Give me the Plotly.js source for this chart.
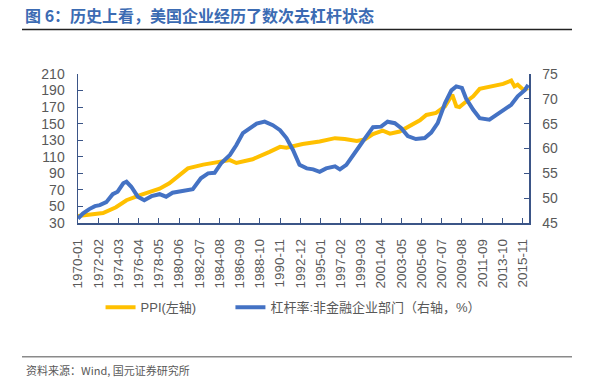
<!DOCTYPE html>
<html>
<head>
<meta charset="utf-8">
<script src="https://cdn.plot.ly/plotly-3.0.1.min.js"></script>
<style>
  html, body { margin: 0; padding: 0; background: #fff; }
  #chart { width: 594px; height: 379px; }
</style>
</head>
<body>
<div id="chart"></div>
<script>
// PPI (left axis)
const ppiDates = ['1970-01','1972-08','1973-12','1975-01','1976-05','1978-06','1979-06','1980-07','1981-05','1982-12',
  '1984-08','1985-09','1986-05','1988-01','1989-10','1990-11','1991-07','1993-03','1994-12','1996-07',
  '1997-07','1998-10','1999-08','2000-06','2001-06','2002-03','2003-03','2004-03','2005-04','2005-12',
  '2006-12','2007-11','2008-08','2009-01','2009-05','2009-11','2010-10','2011-06','2012-10','2013-11',
  '2014-09','2015-01','2015-05','2015-12','2016-06'];
const ppiValues = [38.5,42,49,57.5,63.5,71.5,78,88,96,100.5,
  104,106,102.5,107,116,122,121,125.5,128.5,132.5,
  131.5,129,131,137.5,141.5,138,140.5,146.5,154,160.5,
  163,171,185,171,170,175,183,192,196,198,
  202,195,197,191,193];

// Leverage ratio, non-financial corporate sector (right axis, %)
const levDates = ['1970-01','1970-07','1971-03','1971-10','1972-04','1972-12','1973-08','1974-02','1974-09','1975-01',
  '1975-07','1976-03','1976-11','1977-08','1978-06','1979-02','1979-10','1980-11','1981-11','1982-09',
  '1983-06','1984-02','1984-10','1985-09','1986-05','1987-01','1987-09','1988-06','1989-04','1990-02',
  '1990-11','1991-07','1992-03','1992-11','1993-08','1994-04','1994-12','1995-08','1996-07','1997-01',
  '1997-09','1998-05','1999-01','1999-10','2000-06','2001-04','2001-12','2002-09','2003-05','2004-01',
  '2004-11','2005-10','2006-06','2007-02','2007-11','2008-07','2009-01','2009-08','2010-01','2010-10',
  '2011-06','2012-06','2013-03','2013-11','2014-09','2015-05','2016-02','2016-06'];
const levValues = [45.9,46.9,47.8,48.4,48.6,49.2,50.8,51.3,53.0,53.3,
  52.3,50.3,49.6,50.4,50.8,50.3,51.1,51.4,51.8,54.0,
  55.0,55.1,57.0,58.7,60.7,63.1,64.1,65.0,65.4,64.7,
  63.7,62.1,59.7,56.7,56.0,55.8,55.3,56.0,56.4,55.8,
  56.7,58.7,60.4,62.5,64.3,64.4,65.4,65.1,64.1,62.5,
  61.9,62.1,63.2,65.1,69.1,71.7,72.5,72.2,70.1,67.8,
  66.1,65.8,66.8,67.8,68.8,70.5,71.8,72.8];

const tickLabels = ['1970-01','1972-02','1974-03','1976-04','1978-05','1980-06','1982-07','1984-08','1986-09','1988-10',
  '1990-11','1992-12','1995-01','1997-02','1999-03','2001-04','2003-05','2005-06','2007-07','2009-08',
  '2011-09','2013-10','2015-11'];

const seriesNames = ['PPI(左轴)', '杠杆率:非金融企业部门（右轴，%）'];
const titleText = '图 6：历史上看，美国企业经历了数次去杠杆状态';
const sourceText = '资料来源：Wind, 国元证券研究所';

const font = 'Liberation Sans, Arial, Noto Sans CJK SC, sans-serif';
const axisColor = '#3B5587';
const textColor = '#595959';

const traces = [
  { x: ppiDates, y: ppiValues, name: seriesNames[0], type: 'scatter', mode: 'lines',
    line: { color: '#FFC000', width: 4 }, yaxis: 'y', legend: 'legend' },
  { x: levDates, y: levValues, name: seriesNames[1], type: 'scatter', mode: 'lines',
    line: { color: '#4472C4', width: 4 }, yaxis: 'y2', legend: 'legend2' }
];

const axisCommon = {
  showline: true, linecolor: axisColor, linewidth: 1.5,
  ticks: 'inside', ticklen: 5, tickcolor: axisColor, tickwidth: 1,
  showgrid: false, zeroline: false,
  tickfont: { family: font, size: 14, color: textColor },
  ticklabelstandoff: 9
};

const legendCommon = {
  orientation: 'h', xanchor: 'left', y: -0.565, yanchor: 'middle',
  font: { family: 'Liberation Sans, Noto Sans CJK SC, sans-serif', size: 13, color: textColor },
  bgcolor: 'rgba(0,0,0,0)', itemwidth: 30
};

const layout = {
  width: 594, height: 379,
  margin: { l: 78, r: 65, t: 74, b: 156 },
  paper_bgcolor: '#ffffff', plot_bgcolor: '#ffffff',
  font: { family: font, color: textColor },
  showlegend: true,
  title: {
    text: '<b>' + titleText + '</b>',
    font: { family: 'Noto Sans CJK SC, sans-serif', size: 16, color: '#3B6BB3' },
    xref: 'container', yref: 'container', x: 25 / 594, xanchor: 'left',
    y: 1 - 16 / 379, yanchor: 'middle'
  },
  xaxis: Object.assign({}, axisCommon, {
    type: 'date',
    range: ['1970-01-01', '2016-07-01'],
    tickmode: 'array',
    tickvals: tickLabels.map(t => t + '-01'),
    ticktext: tickLabels,
    tickangle: -90,
    tickfont: { family: font, size: 13.5, color: textColor }
  }),
  yaxis: Object.assign({}, axisCommon, {
    range: [30, 210], tick0: 30, dtick: 20
  }),
  yaxis2: Object.assign({}, axisCommon, {
    overlaying: 'y', side: 'right',
    range: [45, 75], tick0: 45, dtick: 5
  }),
  legend: Object.assign({}, legendCommon, { x: 0.05 }),
  legend2: Object.assign({}, legendCommon, { x: 0.338 }),
  shapes: [
    { type: 'line', xref: 'paper', yref: 'paper', x0: (22 - 78) / 451, x1: (572 - 78) / 451,
      y0: (223 - 29.5) / 149, y1: (223 - 29.5) / 149, line: { color: '#222222', width: 1.5 } },
    { type: 'line', xref: 'paper', yref: 'paper', x0: (22 - 78) / 451, x1: (572 - 78) / 451,
      y0: (223 - 356.7) / 149, y1: (223 - 356.7) / 149, line: { color: '#8A8A8A', width: 1.5 } }
  ],
  annotations: [
    { text: sourceText, xref: 'paper', yref: 'paper', x: (24 - 78) / 451, xanchor: 'left',
      y: (223 - 370) / 149, yanchor: 'middle', showarrow: false,
      font: { family: 'Noto Sans CJK SC, sans-serif', size: 11, color: '#595959' } }
  ]
};

Plotly.newPlot('chart', traces, layout, { displayModeBar: false, staticPlot: true });
</script>
</body>
</html>
